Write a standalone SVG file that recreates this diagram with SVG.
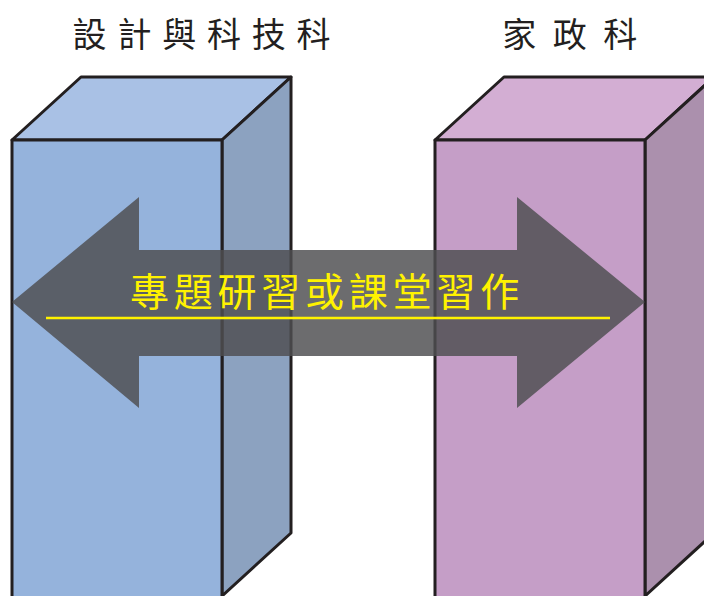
<svg xmlns="http://www.w3.org/2000/svg" width="704" height="596" viewBox="0 0 704 596">
<style>
.edge{stroke:#231f20;stroke-width:3;stroke-linejoin:round}
.title{font-family:"Noto Sans CJK TC","Noto Sans CJK SC",sans-serif;font-size:34px;fill:#231f20}
.label{font-family:"Noto Sans CJK TC","Noto Sans CJK SC",sans-serif;font-size:39px;fill:#fff200}
</style>
<rect width="704" height="596" fill="#fff"/>
<g id="design-tech">
<polygon points="12,140 81,77 291,77 222,140" fill="#a9c1e5" class="edge"/>
<polygon points="222,140 291,77 291,533 222,596" fill="#8ca2c0" class="edge"/>
<rect x="12" y="140" width="210" height="460" fill="#95b3dc" class="edge"/>
<text class="title" x="207" y="47" text-anchor="middle" letter-spacing="10.8">設計與科技科</text>
</g>
<g id="home-econ">
<polygon points="435,140 504,77 714,77 645,140" fill="#d3aed3" class="edge"/>
<polygon points="645,140 714,77 714,533 645,596" fill="#ab90ad" class="edge"/>
<rect x="435" y="140" width="210" height="460" fill="#c59ec7" class="edge"/>
<text class="title" x="578" y="47" text-anchor="middle" letter-spacing="16.5">家政科</text>
</g>
<g id="connectors">
<polygon points="12,302 139,197 139,250 517,250 517,197 645,302 517,408 517,356 139,356 139,408" fill="#4e4e50" fill-opacity="0.83"/>
<line x1="46" y1="318" x2="610" y2="318" stroke="#fff200" stroke-width="2.5"/>
<text class="label" x="327" y="306" text-anchor="middle" letter-spacing="4.8">專題研習或課堂習作</text>
</g>
</svg>
